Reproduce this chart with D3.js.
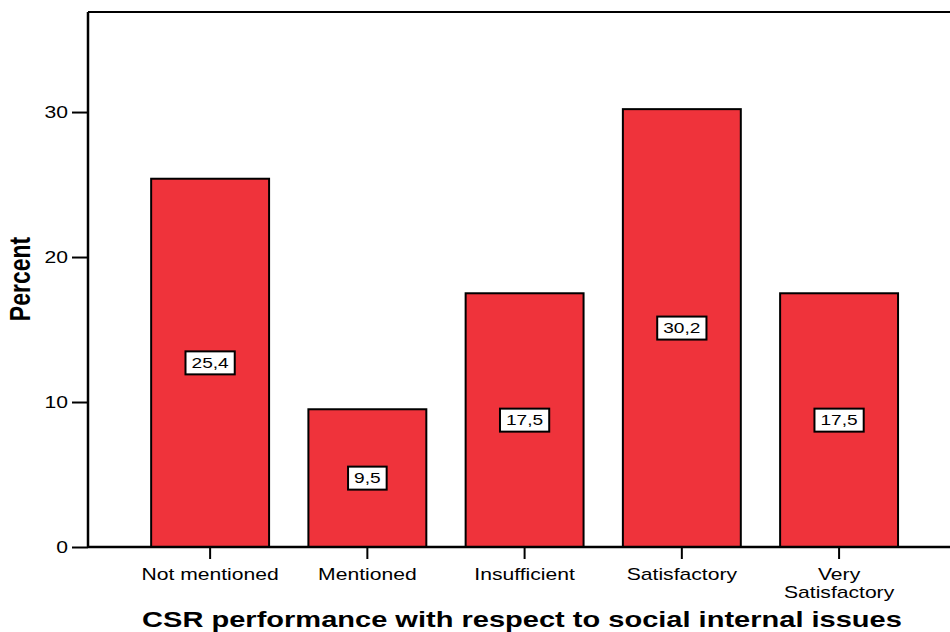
<!DOCTYPE html>
<html>
<head>
<meta charset="utf-8">
<script src="https://cdn.jsdelivr.net/npm/d3@7"></script>
<style>
  html, body { margin: 0; padding: 0; background: #fff; }
  svg { display: block; font-family: Arial, "Liberation Sans", sans-serif; }
</style>
</head>
<body>
<svg id="chart" width="950" height="632"></svg>
<script>
// Percent of responses per CSR performance rating
const categories = ["Not mentioned", "Mentioned", "Insufficient", "Satisfactory", "Very Satisfactory"];
const percents = [25.4, 9.5, 17.5, 30.2, 17.5];
const valueLabels = ["25,4", "9,5", "17,5", "30,2", "17,5"];
const yTicks = [0, 10, 20, 30];
const xTitle = "CSR performance with respect to social internal issues";
const yTitle = "Percent";

const FONT = "Arial, 'Liberation Sans', sans-serif";
const SX = 1.32; // horizontal widening applied to all lettering

const svg = d3.select("#chart");
const plotLeft = 88, plotTop = 12, plotBottom = 547, plotRight = 950;

const x = d3.scaleBand()
  .domain(categories)
  .range([131.5, 917.7])
  .paddingInner(0.25)
  .paddingOuter(0.125);

const y = d3.scaleLinear()
  .domain([0, 36.9])
  .range([plotBottom, plotTop]);

// top edge of the frame
svg.append("line")
  .attr("x1", plotLeft).attr("x2", plotRight)
  .attr("y1", plotTop).attr("y2", plotTop)
  .attr("stroke", "#000").attr("stroke-width", 2);

// bars
svg.append("g").selectAll("rect")
  .data(categories)
  .join("rect")
  .attr("x", d => x(d))
  .attr("width", x.bandwidth())
  .attr("y", (d, i) => y(percents[i]))
  .attr("height", (d, i) => y(0) - y(percents[i]))
  .attr("fill", "#EF333B")
  .attr("stroke", "#000")
  .attr("stroke-width", 2);

// y axis
const yAxis = svg.append("g")
  .attr("transform", `translate(${plotLeft},0)`)
  .call(d3.axisLeft(y).tickValues(yTicks).tickSize(16).tickFormat(d3.format("d")));
yAxis.select(".domain").attr("d", `M0,${plotTop}V${plotBottom}`).attr("stroke-width", 2.5);
yAxis.selectAll(".tick line").attr("stroke-width", 2);
yAxis.selectAll(".tick text")
  .attr("x", 0).attr("dy", "0.35em")
  .attr("transform", `translate(-20,0) scale(${SX},1)`)
  .attr("font-size", 16).attr("fill", "#000").attr("font-family", FONT);

// x axis
const xAxis = svg.append("g")
  .attr("transform", `translate(0,${plotBottom})`)
  .call(d3.axisBottom(x).tickSize(12));
xAxis.select(".domain").attr("d", `M${plotLeft},0H${plotRight}`).attr("stroke-width", 2.5);
xAxis.selectAll(".tick line").attr("stroke-width", 2);
xAxis.selectAll(".tick text").remove();
xAxis.selectAll(".tick").each(function (d) {
  const words = d === "Very Satisfactory" ? ["Very", "Satisfactory"] : [d];
  const t = d3.select(this).append("text")
    .attr("fill", "#000")
    .attr("font-size", 16)
    .attr("text-anchor", "middle")
    .attr("font-family", FONT)
    .attr("transform", `scale(${SX},1)`);
  words.forEach((w, i) => {
    t.append("tspan").attr("x", 0).attr("y", 33.5 + i * 17.5).text(w);
  });
});

// value labels at bar mid-height
const lab = svg.append("g").selectAll("g")
  .data(categories)
  .join("g")
  .attr("transform", (d, i) => `translate(${x(d) + x.bandwidth() / 2},${y(percents[i] / 2)})`);
lab.append("text")
  .attr("text-anchor", "middle")
  .attr("dy", "0.36em")
  .attr("font-size", 14.5)
  .attr("fill", "#000")
  .attr("font-family", FONT)
  .attr("transform", `scale(${SX},1)`)
  .text((d, i) => valueLabels[i]);
lab.each(function () {
  const g = d3.select(this);
  const bb = g.select("text").node().getBBox();
  const w = bb.width * SX + 12;
  g.insert("rect", "text")
    .attr("x", -w / 2).attr("y", -11.5)
    .attr("width", w).attr("height", 23)
    .attr("fill", "#fff").attr("stroke", "#000").attr("stroke-width", 2);
});

// axis titles
svg.append("text")
  .attr("transform", `translate(522,627) scale(${SX},1)`)
  .attr("text-anchor", "middle")
  .attr("font-size", 22).attr("font-weight", "bold")
  .attr("fill", "#000").attr("font-family", FONT)
  .text(xTitle);

svg.append("text")
  .attr("transform", `translate(30,279) scale(${SX},1) rotate(-90)`)
  .attr("text-anchor", "middle")
  .attr("font-size", 23).attr("font-weight", "bold")
  .attr("fill", "#000").attr("font-family", FONT)
  .text(yTitle);
</script>
</body>
</html>
